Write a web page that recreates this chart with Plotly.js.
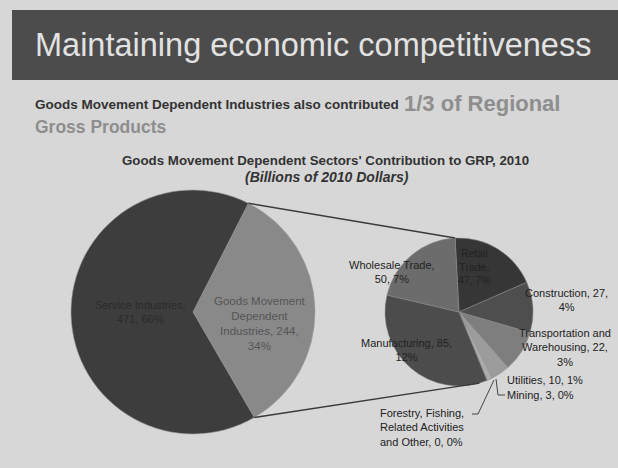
<!DOCTYPE html>
<html><head><meta charset="utf-8">
<script src="https://cdn.plot.ly/plotly-3.0.1.min.js"></script>
<style>
html,body{margin:0;padding:0;background:#d7d7d7;}
#chart{width:618px;height:468px;}
</style></head>
<body><div id="chart"></div>
<script>
// ---- data ----
const mainLabels = ["Goods Movement Dependent Industries", "Service Industries"];
const serviceValue = 471;
const sectorLabels = ["Retail Trade", "Construction", "Transportation and Warehousing", "Utilities", "Mining",
  "Forestry, Fishing, Related Activities and Other", "Manufacturing", "Wholesale Trade"];
const sectorValues = [47, 27, 22, 10, 3, 0, 85, 50];

const gmdValue = sectorValues.reduce((a, b) => a + b, 0);
const mainValues = [gmdValue, serviceValue];
const grandTotal = gmdValue + serviceValue;
const pct = v => Math.round(v / grandTotal * 100) + "%";

// ---- geometry (pixels) ----
const W = 618, H = 468;
const big = {cx: 193, cy: 312, r: 122, rot: 27};
const small = {cx: 459, cy: 312, r: 74, rot: -3};
const dom = c => ({x: [(c.cx - c.r) / W, (c.cx + c.r) / W], y: [1 - (c.cy + c.r) / H, 1 - (c.cy - c.r) / H]});
const px = x => x / W, py = y => 1 - y / H;
const pt = (c, deg) => {const a = deg * Math.PI / 180; return [c.cx + c.r * Math.sin(a), c.cy - c.r * Math.cos(a)];};

const traces = [
  {type: "pie", labels: mainLabels, values: mainValues, sort: false, direction: "clockwise", rotation: big.rot,
   domain: dom(big), textinfo: "none", hoverinfo: "none", showlegend: false,
   marker: {colors: ["#898989", "#3d3d3d"], line: {color: "#9a9a9a", width: 0.6}}},
  {type: "pie", labels: sectorLabels, values: sectorValues, sort: false, direction: "clockwise", rotation: small.rot,
   domain: dom(small), textinfo: "none", hoverinfo: "none", showlegend: false,
   marker: {colors: ["#363636", "#4e4e4e", "#7e7e7e", "#9c9c9c", "#ababab", "#bbbbbb", "#4c4c4c", "#6c6c6c"],
            line: {color: "#8a8a8a", width: 0.5}}}
];

// connector lines between pies
const gmdAngle = gmdValue / grandTotal * 360;
const b1 = pt(big, big.rot), b2 = pt(big, big.rot + gmdAngle);
const s1 = pt(small, small.rot), s2 = pt(small, 164);
const shapes = [
  {type: "rect", xref: "paper", yref: "paper", x0: px(12), x1: px(618), y0: py(80), y1: py(10),
   fillcolor: "#4c4c4c", line: {width: 0}, layer: "below"},
  {type: "line", xref: "paper", yref: "paper", x0: px(b1[0]), y0: py(b1[1]), x1: px(s1[0]), y1: py(s1[1]),
   line: {color: "#3a3a3a", width: 1.5}},
  {type: "line", xref: "paper", yref: "paper", x0: px(b2[0]), y0: py(b2[1]), x1: px(s2[0]), y1: py(s2[1]),
   line: {color: "#3a3a3a", width: 1.5}},
  // leader lines
  {type: "path", xref: "paper", yref: "paper",
   path: `M ${px(496)} ${py(379)} L ${px(498)} ${py(395)} L ${px(505)} ${py(395)}`, line: {color: "#444", width: 1}},
  {type: "path", xref: "paper", yref: "paper",
   path: `M ${px(494)} ${py(380)} L ${px(478)} ${py(414)} L ${px(472)} ${py(414)}`, line: {color: "#444", width: 1}}
];

const F = "Liberation Sans, Arial, sans-serif";
const A = (x, y, text, size, color, opts) => Object.assign({xref: "paper", yref: "paper", x: px(x), y: py(y),
  text: text, showarrow: false, font: {family: F, size: size, color: color}, xanchor: "center", yanchor: "middle"}, opts || {});
const v = i => sectorValues[i];
const annotations = [
  A(33, 45, "Maintaining economic competitiveness", 32.5, "#e2e2e2", {xanchor: "left"}),
  A(33, 105, "<b>Goods Movement Dependent Industries also contributed</b>", 13.5, "#333", {xanchor: "left"}),
  A(402, 103, "<b>1/3 of Regional</b>", 22, "#8e8e8e", {xanchor: "left"}),
  A(33, 127, "<b>Gross Products</b>", 17.5, "#8e8e8e", {xanchor: "left"}),
  A(325, 160, "<b>Goods Movement Dependent Sectors' Contribution to GRP, 2010</b>", 13.3, "#333"),
  A(327, 177, "<b><i>(Billions of 2010 Dollars)</i></b>", 14, "#333"),
  // big pie labels
  A(140, 312, mainLabels[1] + ",<br>" + serviceValue + ", " + pct(serviceValue), 11, "#2a2a2a"),
  A(260, 323, "Goods Movement<br>Dependent<br>Industries, " + gmdValue + ",<br>" + pct(gmdValue), 11.5, "#555"),
  // small pie labels
  A(392, 272, sectorLabels[7] + ",<br>" + v(7) + ", " + pct(v(7)), 11, "#222"),
  A(474, 266, "Retail<br>Trade,<br>" + v(0) + ", " + pct(v(0)), 10.5, "#222"),
  A(566, 300, sectorLabels[1] + ", " + v(1) + ",<br>" + pct(v(1)), 11, "#222"),
  A(565, 347, "Transportation and<br>Warehousing, " + v(2) + ",<br>" + pct(v(2)), 11, "#222"),
  A(505, 380, sectorLabels[3] + ", " + v(3) + ", " + pct(v(3)), 11, "#222", {xanchor: "left"}),
  A(505, 395, sectorLabels[4] + ", " + v(4) + ", " + pct(v(4)), 11, "#222", {xanchor: "left"}),
  A(378, 427, "Forestry, Fishing,<br>Related Activities<br>and Other, " + v(5) + ", " + pct(v(5)), 11, "#222", {xanchor: "left", align: "left"}),
  A(406, 350, sectorLabels[6] + ", " + v(6) + ",<br>" + pct(v(6)), 11, "#222")
];

Plotly.newPlot("chart", traces, {
  width: W, height: H, margin: {l: 0, r: 0, t: 0, b: 0},
  paper_bgcolor: "#d7d7d7", plot_bgcolor: "#d7d7d7",
  shapes: shapes, annotations: annotations
}, {staticPlot: true});
</script></body></html>
